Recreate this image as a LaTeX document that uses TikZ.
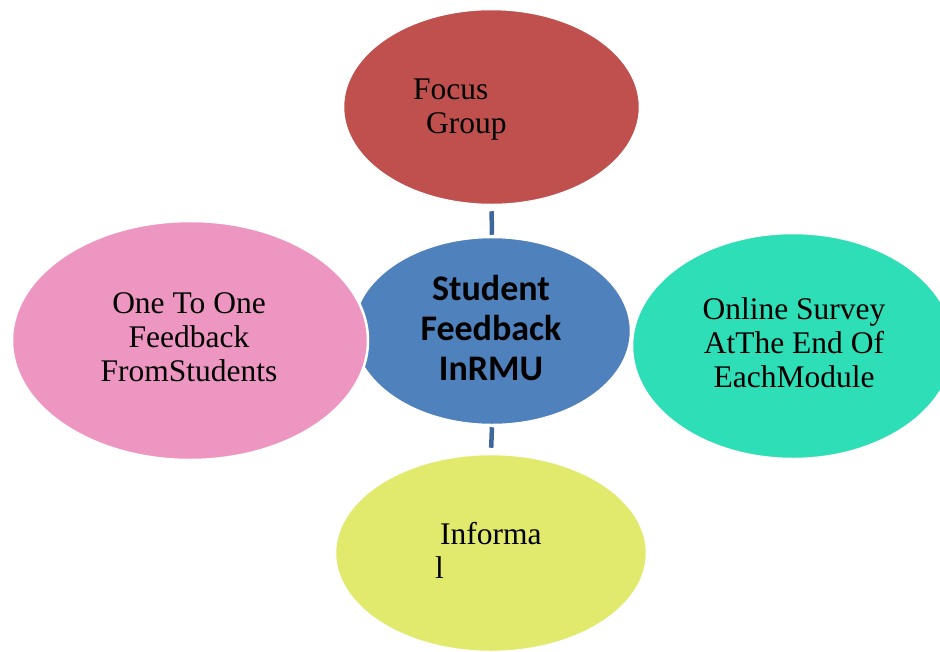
\documentclass[tikz,border=0pt]{standalone}
\usepackage{fontspec}
\setmainfont{Liberation Serif}
\newfontfamily\calfont{Carlito}
\usetikzlibrary{shapes.geometric}
\definecolor{cblue}{RGB}{79,129,189}
\definecolor{cred}{RGB}{192,80,77}
\definecolor{cpink}{RGB}{238,150,194}
\definecolor{cgreen}{RGB}{46,222,182}
\definecolor{cyellow}{RGB}{226,234,110}
\definecolor{cline}{RGB}{62,104,156}
\tikzset{
  oval/.style={ellipse, draw=white, line width=2.5pt, inner sep=0pt},
  conn/.style={draw=cline, line width=4.5pt},
  ser/.style={font=\fontsize{31.5}{34}\selectfont, inner sep=0pt},
  ctr/.style={font=\calfont\bfseries\fontsize{36}{40}\selectfont, inner sep=0pt, align=center}
}
\begin{document}
\begin{tikzpicture}[x=1pt,y=-1pt]
\path[use as bounding box, clip] (0,0) rectangle (940,651);
\fill[white] (0,0) rectangle (940,651);
% ellipse shapes
\node[oval, fill=cblue, minimum width=278pt, minimum height=188pt] (center) at (492,331) {};
\node[oval, fill=cred, minimum width=297pt, minimum height=196pt] (top) at (491.5,107) {};
\node[oval, fill=cyellow, minimum width=312pt, minimum height=198pt] (bottom) at (491,553) {};
\node[oval, fill=cpink, minimum width=356pt, minimum height=239pt] (left) at (190,340.5) {};
\node[oval, fill=cgreen, minimum width=322pt, minimum height=226pt] (right) at (793,346) {};
% connectors
\draw[conn, shorten <=5pt, shorten >=1pt] (top.south) -- (center.north);
\draw[conn, shorten <=1pt, shorten >=5pt] (center.south) -- (bottom.north);
% texts
\node[ctr] (ctext) at (491,327.5) {Student\\Feedback\\InRMU};
\node[ser, anchor=north west, align=left] (ttext) at (413,78.5) {Focus\\\hspace*{13pt}Group};
\node[ser, align=center] (ltext) at (189,337.7) {One To One\\Feedback\\FromStudents};
\node[ser, align=center] (rtext) at (794,342.5) {Online Survey\\AtThe End Of\\EachModule};
\node[ser, anchor=north west, align=left] (btext) at (435,521.8) {\hspace*{5pt}Informa\\l};
\end{tikzpicture}
\end{document}
